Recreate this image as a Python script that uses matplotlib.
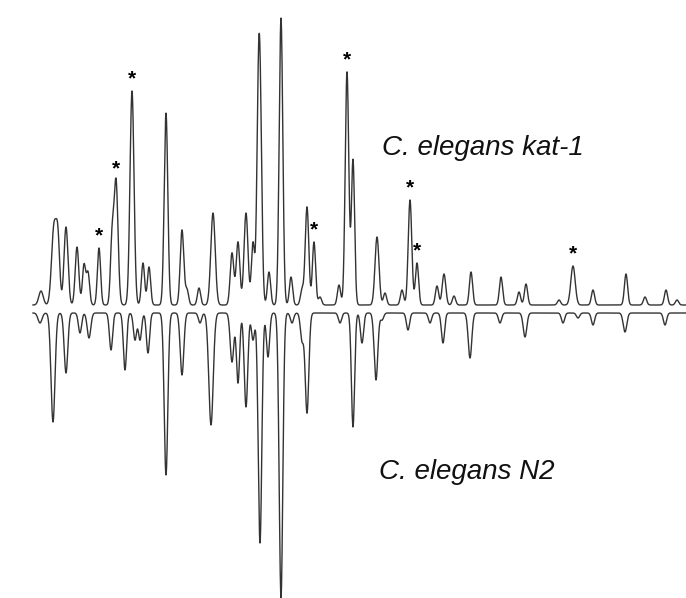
import numpy as np
import matplotlib.pyplot as plt

# peak tables (pixel-like retention units / signal units)
# C. elegans kat-1 (upper trace)
kat1_pos = [41, 54, 58, 66, 77, 84, 88, 99, 112, 116, 132, 143, 149, 166, 182,
            187, 199, 213, 232, 238, 246, 253, 258, 260, 269, 281, 291, 302, 307,
            314, 320, 339, 347, 353, 377, 385, 402, 410, 417, 437, 444, 454, 471,
            501, 519, 526, 559, 573, 593, 626, 645, 666, 677]
kat1_height = [14, 78, 58, 78, 58, 40, 32, 57, 62, 124, 214, 42, 38, 192, 75,
               15, 17, 92, 52, 63, 92, 62, 120, 200, 33, 287, 28, 15, 98,
               63, 8, 20, 233, 145, 68, 12, 15, 105, 42, 19, 31, 9, 33,
               28, 13, 21, 5, 39, 15, 31, 8, 15, 5]
kat1_width = [2.2, 2.4, 1.8, 2.0, 1.8, 1.6, 1.6, 1.6, 1.6, 2.0, 2.0, 1.6, 1.6, 1.8, 1.8,
              1.6, 1.6, 2.2, 1.8, 1.8, 2.0, 1.6, 1.6, 1.8, 1.6, 1.8, 1.6, 1.6, 1.8,
              1.6, 1.6, 1.6, 1.8, 1.6, 2.0, 1.6, 1.6, 1.8, 1.6, 1.6, 1.8, 1.6, 1.6,
              1.6, 1.6, 1.6, 1.6, 2.2, 1.6, 1.6, 1.6, 1.6, 1.6]

# C. elegans N2 (lower, mirrored trace)
n2_pos = [40, 53, 66, 80, 89, 111, 125, 135, 140, 148, 166, 182, 200, 211, 232,
          238, 246, 253, 260, 268, 281, 292, 302, 307, 340, 353, 362, 376, 382,
          408, 430, 443, 470, 500, 525, 563, 578, 593, 625, 665]
n2_depth = [10, 109, 60, 20, 25, 37, 57, 27, 27, 40, 162, 62, 10, 112, 49,
            70, 94, 27, 230, 44, 285, 10, 27, 100, 10, 114, 30, 67, 7,
            17, 10, 30, 45, 10, 24, 10, 5, 12, 19, 12]
n2_width = [2.0, 2.0, 1.8, 1.6, 1.8, 1.6, 1.6, 1.6, 1.6, 1.6, 1.8, 1.8, 1.6, 2.2, 1.8,
            1.6, 1.8, 1.6, 1.8, 1.6, 1.8, 1.6, 1.6, 1.8, 1.6, 1.6, 1.6, 1.8, 1.6,
            1.6, 1.6, 1.6, 1.8, 1.6, 1.8, 1.6, 1.6, 1.6, 1.8, 1.6]

# kat-1 peaks marked with an asterisk
starred = [99, 116, 132, 314, 347, 410, 417, 573]

KAT1_BASE = 305
N2_BASE = 313


def trace(x, pos, amp, wid):
    """Sum of peaks for a chromatogram trace."""
    y = np.zeros_like(x)
    for p, a, w in zip(pos, amp, wid):
        y += a * np.exp(-(x - p) ** 2 / (2 * w ** 2))
    return y


def main():
    fig = plt.figure(figsize=(6.86, 5.98), dpi=100)
    ax = fig.add_axes([0, 0, 1, 1])
    ax.set_xlim(0, 686)
    ax.set_ylim(598, 0)
    ax.axis('off')

    x = np.linspace(33, 686, 4000)
    top = KAT1_BASE - trace(x, kat1_pos, kat1_height, kat1_width)
    bottom = N2_BASE + trace(x, n2_pos, n2_depth, n2_width)

    ax.plot(x, top, color='#333333', lw=1.0)
    ax.plot(x, bottom, color='#333333', lw=1.0)

    for p in starred:
        i = kat1_pos.index(p)
        ax.text(p, KAT1_BASE - kat1_height[i] - 3, '*', ha='center', va='bottom',
                fontsize=15, fontweight='bold', family='Liberation Sans')

    ax.text(382, 148, 'C. elegans kat-1', ha='left', va='center', fontsize=20,
            style='italic', family='Liberation Sans', color='#111111')
    ax.text(379, 472, 'C. elegans N2', ha='left', va='center', fontsize=20,
            style='italic', family='Liberation Sans', color='#111111')

    fig.savefig('out.png', dpi=100, facecolor='white')


if __name__ == '__main__':
    main()
